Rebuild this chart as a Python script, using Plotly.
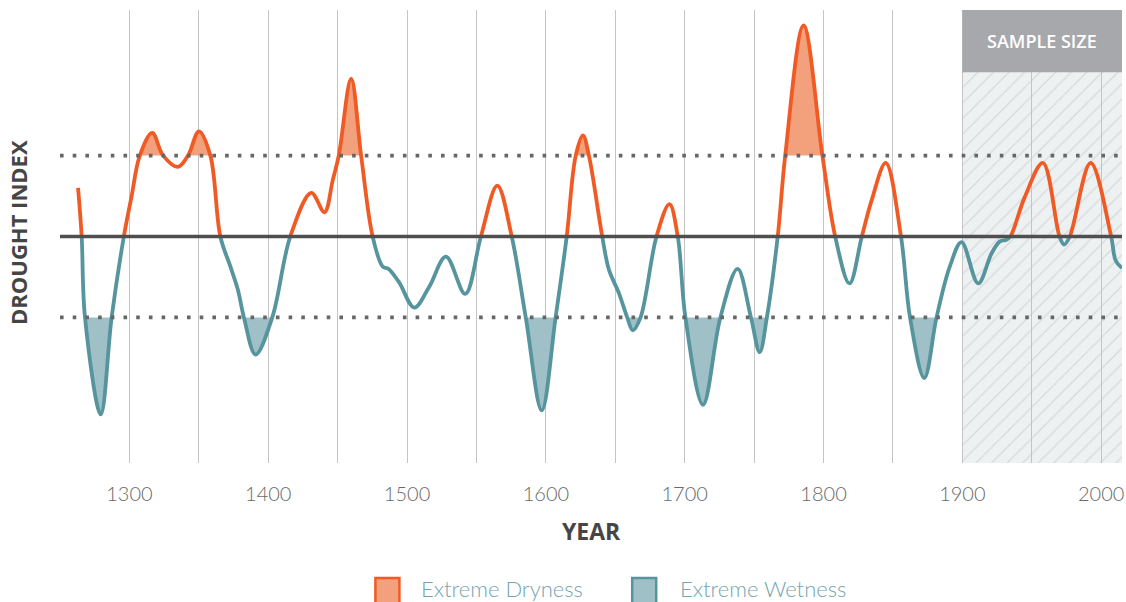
import plotly.graph_objects as go

# ---- data ----
years = [1263, 1265.6, 1268, 1279.3, 1287.2, 1296, 1301.5, 1307.5, 1316.4, 1324.3,
         1335, 1342.2, 1350.1, 1358.3, 1365.5, 1372.7, 1378, 1382.5, 1390.9, 1402.9,
         1415.9, 1431, 1440.5, 1446.5, 1450.8, 1459.7, 1466.9, 1475.2, 1482.4, 1486.5,
         1494.4, 1505.2, 1516, 1528, 1541.9, 1553.2, 1565, 1575.4, 1585.5, 1597,
         1607, 1615, 1621.5, 1626.7, 1631, 1640.6, 1645.4, 1652.6, 1658.6, 1662.6,
         1668.2, 1679.7, 1689, 1695, 1700.5, 1713.2, 1725.7, 1738.1, 1747.7, 1754,
         1759.2, 1767, 1772.4, 1785.6, 1799.2, 1808.4, 1818.7, 1827.6, 1834.7, 1844.8,
         1855.8, 1862.3, 1872.6, 1881.4, 1891, 1899.4, 1911.4, 1921, 1927, 1931.7,
         1934.6, 1945, 1958, 1970, 1973.3, 1977.4, 1992.4, 2007.2, 2010.5, 2015]
drought_index = [0.60, 0.0, -1.0, -2.20, -1.0, 0.0, 0.49, 1.0, 1.28, 1.0,
                 0.86, 1.0, 1.30, 1.0, 0.0, -0.37, -0.65, -1.0, -1.46, -1.0,
                 0.0, 0.54, 0.30, 0.70, 1.0, 1.95, 1.0, 0.0, -0.37, -0.40,
                 -0.57, -0.88, -0.62, -0.25, -0.71, 0.0, 0.63, 0.0, -1.0, -2.15,
                 -1.0, 0.0, 1.0, 1.25, 1.0, 0.0, -0.41, -0.70, -1.0, -1.16,
                 -1.0, 0.0, 0.40, 0.0, -1.0, -2.08, -1.0, -0.40, -1.0, -1.43,
                 -1.0, 0.0, 1.0, 2.61, 1.0, 0.0, -0.58, 0.0, 0.45, 0.91,
                 0.0, -1.0, -1.75, -1.0, -0.37, -0.07, -0.58, -0.21, -0.06, -0.04,
                 0.0, 0.49, 0.91, 0.0, -0.10, 0.0, 0.91, 0.0, -0.30, -0.39]
extreme_threshold = 1.0
sample_size_start = 1900
tick_years = list(range(1250, 2001, 50))
tick_labels = [str(y) if y % 100 == 0 else "" for y in tick_years]

# ---- styling ----
X_RANGE = [1250, 2015]
Y_MIN, Y_MAX = -2.8, 2.8
HATCH_TOP = 2.03
ORANGE = "#F05A24"
ORANGE_FILL = "#F3A07D"
TEAL = "#56949E"
TEAL_FILL = "#9FC0C7"
LEGEND_TEXT = "#73A5AF"
GRID = "#C4C4C4"
LW = 3.8


def dom(v):
    return (v - Y_MIN) / (Y_MAX - Y_MIN)


fig = go.Figure()

# hatched "sample size" region (subplot xy)
fig.add_trace(go.Bar(
    x=[(sample_size_start + X_RANGE[1]) / 2], y=[HATCH_TOP - Y_MIN],
    base=[Y_MIN], width=[X_RANGE[1] - sample_size_start],
    marker=dict(color="#EDF1F2", line=dict(width=0),
                pattern=dict(shape="/", fgcolor="#BDC2C4", bgcolor="#EDF1F2",
                             size=11, solidity=0.11, fillmode="overlay")),
    xaxis="x", yaxis="y", hoverinfo="skip", showlegend=False))

# axis/grid subplot (x2y2)
fig.add_trace(go.Scatter(x=[years[0]], y=[0], mode="none", xaxis="x2", yaxis="y2",
                         hoverinfo="skip", showlegend=False))

# extreme dryness fill (clipped above +1)
fig.add_trace(go.Scatter(x=years, y=drought_index, mode="lines",
                         line=dict(width=0, shape="spline", smoothing=1.0),
                         fill="tozeroy", fillcolor=ORANGE_FILL,
                         xaxis="x3", yaxis="y3", hoverinfo="skip", showlegend=False))
# extreme wetness fill (clipped below -1)
fig.add_trace(go.Scatter(x=years, y=drought_index, mode="lines",
                         line=dict(width=0, shape="spline", smoothing=1.0),
                         fill="tozeroy", fillcolor=TEAL_FILL,
                         xaxis="x4", yaxis="y4", hoverinfo="skip", showlegend=False))
# orange line (clipped above 0)
fig.add_trace(go.Scatter(x=years, y=drought_index, mode="lines",
                         line=dict(width=LW, color=ORANGE, shape="spline", smoothing=1.0),
                         xaxis="x5", yaxis="y5", hoverinfo="skip", showlegend=False))
# teal line (clipped below 0)
fig.add_trace(go.Scatter(x=years, y=drought_index, mode="lines",
                         line=dict(width=LW, color=TEAL, shape="spline", smoothing=1.0),
                         xaxis="x6", yaxis="y6", hoverinfo="skip", showlegend=False))

hidden_x = dict(domain=[0, 1], range=X_RANGE, visible=False, showgrid=False, zeroline=False)
hidden_y = dict(visible=False, showgrid=False, zeroline=False)

fig.update_layout(
    width=1126, height=602,
    margin=dict(l=60, r=2, t=10, b=139),
    paper_bgcolor="white", plot_bgcolor="rgba(0,0,0,0)",
    showlegend=False, bargap=0,
    xaxis=dict(hidden_x, anchor="y"),
    yaxis=dict(hidden_y, domain=[0, 1], range=[Y_MIN, Y_MAX], anchor="x"),
    xaxis2=dict(domain=[0, 1], range=X_RANGE, anchor="y2",
                tickmode="array", tickvals=tick_years, ticktext=tick_labels,
                showgrid=True, gridcolor=GRID, gridwidth=1.2, zeroline=False,
                showline=False, ticks="", ticklabelstandoff=17,
                ticklabeloverflow="allow",
                tickfont=dict(family="Lato", size=20, color="#6A6A6A", weight=300)),
    yaxis2=dict(domain=[0, 1], range=[Y_MIN, Y_MAX], anchor="x2", showgrid=False,
                zeroline=False, showticklabels=False, showline=False, ticks=""),
    xaxis3=dict(hidden_x, anchor="y3"),
    yaxis3=dict(hidden_y, domain=[dom(extreme_threshold), 1], range=[extreme_threshold, Y_MAX], anchor="x3"),
    xaxis4=dict(hidden_x, anchor="y4"),
    yaxis4=dict(hidden_y, domain=[0, dom(-extreme_threshold)], range=[Y_MIN, -extreme_threshold], anchor="x4"),
    xaxis5=dict(hidden_x, anchor="y5"),
    yaxis5=dict(hidden_y, domain=[dom(0), 1], range=[0, Y_MAX], anchor="x5"),
    xaxis6=dict(hidden_x, anchor="y6"),
    yaxis6=dict(hidden_y, domain=[0, dom(0)], range=[Y_MIN, 0], anchor="x6"),
)

shapes = [
    # sample size header box
    dict(type="rect", xref="x2", yref="y2", x0=sample_size_start, x1=X_RANGE[1],
         y0=HATCH_TOP, y1=Y_MAX, fillcolor="#A7A8AB", line=dict(width=0), layer="above"),
    # dotted thresholds
    dict(type="line", xref="x2", yref="y2", x0=X_RANGE[0], x1=X_RANGE[1],
         y0=extreme_threshold, y1=extreme_threshold,
         line=dict(color="#666666", width=3.6, dash="3.6px,9.1px"), layer="above"),
    dict(type="line", xref="x2", yref="y2", x0=X_RANGE[0], x1=X_RANGE[1],
         y0=-extreme_threshold, y1=-extreme_threshold,
         line=dict(color="#666666", width=3.6, dash="3.6px,9.1px"), layer="above"),
    # zero line
    dict(type="line", xref="x2", yref="y2", x0=X_RANGE[0], x1=X_RANGE[1], y0=0, y1=0,
         line=dict(color="#4F4F4F", width=3.6), layer="above"),
    # legend swatches
    dict(type="rect", xref="paper", yref="paper", x0=0.2970, x1=0.3196, y0=-0.3110, y1=-0.2540,
         fillcolor=ORANGE_FILL, line=dict(color=ORANGE, width=2.5)),
    dict(type="rect", xref="paper", yref="paper", x0=0.5388, x1=0.5614, y0=-0.3110, y1=-0.2540,
         fillcolor=TEAL_FILL, line=dict(color=TEAL, width=2.5)),
]
fig.update_layout(shapes=shapes)

annotations = [
    dict(text="SAMPLE SIZE", xref="x2", yref="y2", x=(sample_size_start + X_RANGE[1]) / 2,
         y=(HATCH_TOP + Y_MAX) / 2, showarrow=False,
         font=dict(family="Open Sans", size=18, color="white", weight=600)),
    dict(text="YEAR", xref="paper", yref="paper", x=0.5005, y=-0.1508, showarrow=False,
         xanchor="center", yanchor="middle",
         font=dict(family="Open Sans", size=23, color="#454545", weight=700)),
    dict(text="DROUGHT INDEX", xref="paper", yref="paper", x=-0.0395, y=0.5077,
         showarrow=False, textangle=-90, xanchor="center", yanchor="middle",
         font=dict(family="Open Sans", size=22, color="#454545", weight=700)),
    dict(text="Extreme Dryness", xref="paper", yref="paper", x=0.3377, y=-0.2780,
         showarrow=False, xanchor="left", yanchor="middle",
         font=dict(family="Lato", size=22, color=LEGEND_TEXT, weight=300)),
    dict(text="Extreme Wetness", xref="paper", yref="paper", x=0.5820, y=-0.2780,
         showarrow=False, xanchor="left", yanchor="middle",
         font=dict(family="Lato", size=22, color=LEGEND_TEXT, weight=300)),
]
fig.update_layout(annotations=annotations)

# remove the default 8px page margin so the figure sits at the window origin
fig.write_html(
    "out.html",
    config={"displayModeBar": False},
    post_script="document.body.style.margin='0';"
                "document.documentElement.style.overflow='hidden';"
                "document.body.style.overflow='hidden';",
)
